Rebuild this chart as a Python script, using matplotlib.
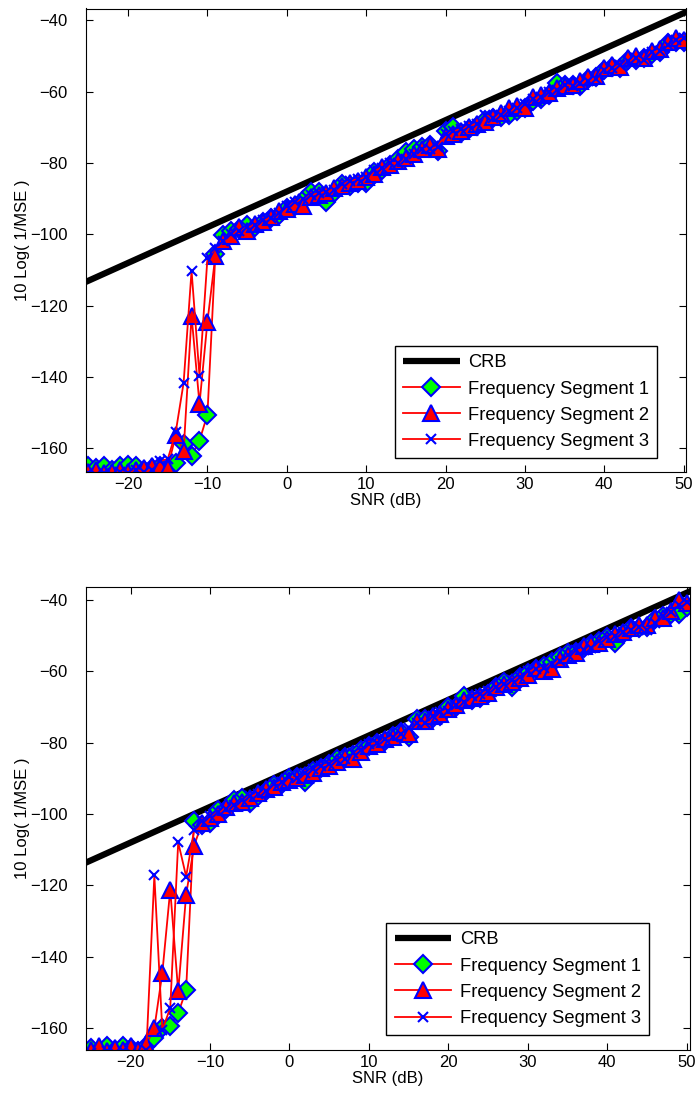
import matplotlib
matplotlib.use('Agg')
import matplotlib.pyplot as plt

plt.rcParams['font.family'] = ['Liberation Sans', 'DejaVu Sans']
plt.rcParams['axes.unicode_minus'] = True

snr = list(range(-25, 51))

crb_snr = [-26, 51]
crb_db = [-114.0, -37.0]

# top panel
top_seg1 = [-165.0, -165.5, -165.0, -166.0, -165.0, -164.5, -165.0, -166.0, -165.5, -165.0,
            -166.0, -164.0, -158.7, -162.0, -157.8, -150.5, -105.5, -100.2,
            -99.0, -98.5, -97.5, -98.0, -96.5, -95.5, -94.5, -92.5, -92.0, -90.5,
            -88.0, -88.0, -91.0, -88.5, -86.0, -86.5, -85.5, -85.5, -82.5, -82.0,
            -80.5, -79.0, -77.0, -76.0, -75.5, -75.0, -76.5, -71.0, -70.0, -71.5,
            -70.5, -69.5, -68.0, -67.5, -67.0, -66.5, -65.5, -64.5, -62.5, -62.0,
            -61.0, -57.5, -58.0, -58.0, -58.5, -56.5, -56.0, -54.0, -53.0, -53.5,
            -51.0, -51.0, -50.5, -49.5, -49.0, -46.5, -46.0, -46.0]
top_seg2 = [-166.5, -166.0, -167.0, -166.5, -166.0, -166.5, -166.0, -165.5, -165.0, -165.0,
            -165.5, -156.3, -160.7, -122.8, -147.5, -124.5, -106.0, -102.0,
            -100.5, -98.0, -99.0, -97.0, -96.5, -95.0, -93.5, -93.0, -91.5, -92.0,
            -89.5, -89.0, -88.5, -87.0, -86.5, -85.5, -85.0, -84.0, -83.0, -81.0,
            -80.5, -79.5, -78.5, -77.5, -76.0, -75.0, -76.0, -72.5, -72.0, -71.0,
            -70.0, -69.0, -68.5, -67.0, -66.0, -64.5, -64.0, -64.5, -61.5, -61.0,
            -60.5, -59.0, -58.5, -58.0, -57.0, -56.0, -55.5, -53.5, -52.5, -53.0,
            -50.5, -50.0, -50.5, -48.5, -48.0, -46.0, -45.0, -45.5]
top_seg3 = [-167.0, -167.5, -167.0, -167.5, -166.5, -167.0, -166.0, -166.5, -166.0, -163.5,
            -163.0, -155.5, -141.6, -110.2, -139.7, -106.7, -103.8, -102.0,
            -100.0, -99.0, -98.0, -97.5, -96.0, -95.5, -94.0, -92.0, -91.0, -90.0,
            -89.0, -88.5, -88.0, -87.5, -86.0, -85.0, -84.5, -84.0, -82.0, -81.5,
            -80.0, -80.0, -79.0, -77.5, -76.0, -76.0, -75.5, -72.0, -71.0, -70.5,
            -69.5, -69.0, -66.5, -67.5, -66.5, -65.5, -64.5, -63.5, -62.0, -61.5,
            -60.0, -59.5, -58.0, -58.5, -57.5, -57.0, -56.5, -54.0, -53.5, -52.5,
            -51.5, -50.5, -51.0, -49.0, -48.5, -47.0, -45.5, -45.0]

# bottom panel
bot_seg1 = [-165.5, -166.0, -165.0, -166.0, -165.0, -165.5, -166.5, -165.0,
            -162.8, -160.0, -159.3, -155.8, -149.3, -102.0, -103.0, -102.5,
            -99.0, -98.5, -96.0, -95.5, -97.0, -95.0, -93.5, -92.0, -91.5, -90.0,
            -89.5, -91.0, -88.0, -87.0, -86.0, -84.5, -84.0, -83.5, -82.0, -81.0,
            -80.0, -79.5, -78.0, -77.0, -78.5, -73.5, -73.5, -73.0, -72.5, -70.0,
            -70.0, -67.0, -68.0, -67.5, -66.5, -64.5, -63.0, -64.5, -61.5, -60.5,
            -59.5, -58.5, -57.5, -56.0, -55.0, -54.5, -53.5, -52.5, -51.5, -50.5,
            -52.0, -49.5, -48.0, -48.0, -47.5, -45.5, -44.5, -44.0, -44.0, -42.0]
bot_seg2 = [-166.0, -165.0, -166.5, -165.5, -166.0, -165.0, -166.0, -164.5,
            -160.0, -144.6, -121.2, -149.7, -122.6, -108.9, -102.5, -101.0,
            -100.0, -98.0, -97.0, -96.5, -95.5, -94.0, -93.0, -92.5, -91.0, -90.5,
            -90.0, -89.0, -88.5, -87.0, -86.5, -85.5, -84.0, -84.5, -82.5, -81.0,
            -80.5, -79.0, -78.5, -77.0, -77.5, -74.0, -74.0, -72.5, -72.0, -70.5,
            -69.5, -68.0, -67.5, -67.0, -66.0, -64.5, -63.5, -63.0, -62.0, -61.0,
            -59.0, -60.0, -59.5, -56.5, -55.5, -55.0, -53.0, -52.5, -52.0, -51.0,
            -49.5, -49.0, -48.0, -47.0, -47.0, -45.0, -45.0, -43.0, -40.0, -41.0]
bot_seg3 = [-167.0, -167.5, -166.5, -167.0, -166.5, -167.0, -167.5, -166.0,
            -117.2, -160.5, -154.3, -107.9, -117.5, -104.5, -102.0, -100.5,
            -99.5, -98.5, -97.5, -96.0, -95.0, -94.5, -93.5, -91.5, -91.0, -89.5,
            -90.0, -88.5, -87.5, -86.5, -86.0, -85.0, -84.5, -83.0, -82.0, -80.5,
            -80.0, -79.0, -78.5, -77.5, -76.0, -74.5, -74.5, -72.5, -71.5, -71.0,
            -69.5, -68.5, -67.0, -66.5, -65.5, -64.5, -63.5, -62.5, -61.5, -60.0,
            -59.5, -59.0, -58.0, -57.0, -55.5, -54.0, -54.0, -53.5, -51.5, -50.5,
            -50.0, -49.0, -48.5, -47.5, -48.5, -46.5, -44.5, -43.5, -41.5, -40.5]

labels = ['CRB', 'Frequency Segment 1', 'Frequency Segment 2', 'Frequency Segment 3']
yticks = [-160, -140, -120, -100, -80, -60, -40]
xticks = [-20, -10, 0, 10, 20, 30, 40, 50]

fig = plt.figure(figsize=(6.97, 11.13), dpi=100)
# pixel boxes: top (86..686, 8.5..472), bottom (86..690, 587..1050)
ax1 = fig.add_axes([86 / 697, 1 - 472 / 1113, 600 / 697, 463.5 / 1113])
ax2 = fig.add_axes([86 / 697, 1 - 1050 / 1113, 604 / 697, 463 / 1113])

panels = [
    (ax1, top_seg1, top_seg2, top_seg3, (-25.3, 50.3), (-166.6, -36.7), (0.952, 0.03)),
    (ax2, bot_seg1, bot_seg2, bot_seg3, (-25.6, 50.4), (-166.1, -36.4), (0.932, 0.032)),
]

for ax, s1, s2, s3, xl, yl, anchor in panels:
    ax.plot(crb_snr, crb_db, color='black', linewidth=4.5, solid_capstyle='butt')
    ax.plot(snr, s1, '-', color='red', linewidth=1.3, marker='D', markersize=9,
            markerfacecolor='#00ff00', markeredgecolor='blue', markeredgewidth=1.5)
    ax.plot(snr, s2, '-', color='red', linewidth=1.3, marker='^', markersize=11,
            markerfacecolor='red', markeredgecolor='blue', markeredgewidth=1.5)
    ax.plot(snr, s3, '-', color='red', linewidth=1.3, marker='x', markersize=7,
            markeredgecolor='blue', markeredgewidth=1.5)
    ax.set_xlim(*xl)
    ax.set_ylim(*yl)
    ax.set_xticks(xticks)
    ax.set_yticks(yticks)
    ax.tick_params(direction='in', top=True, right=True, length=5, labelsize=12)
    ax.tick_params(axis='y', pad=13)
    ax.set_xlabel('SNR (dB)', fontsize=12, labelpad=1)
    ax.set_ylabel('10 Log( 1/MSE )', fontsize=12, labelpad=0)
    leg = ax.legend(labels, loc='lower right', bbox_to_anchor=anchor, fontsize=13.2,
                    fancybox=False, framealpha=1, edgecolor='black', borderaxespad=0,
                    handlelength=3.1, handletextpad=0.45, labelspacing=0.5,
                    borderpad=0.45)
    leg.get_frame().set_linewidth(1.0)

fig.savefig('out.png', dpi=100)
